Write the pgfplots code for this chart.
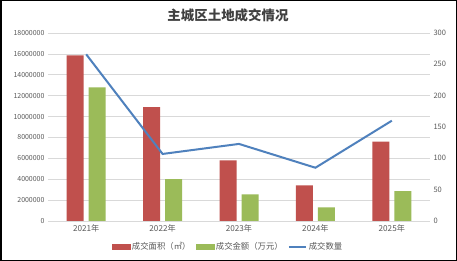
\documentclass[border=0pt]{standalone}
\usepackage{pgfplots}
\pgfplotsset{compat=1.18}
\usepackage{fontspec}
\setmainfont{Noto Sans CJK SC}
\definecolor{cred}{HTML}{C0504D}
\definecolor{cgreen}{HTML}{9BBB59}
\definecolor{cblue}{HTML}{4F81BD}
\definecolor{cgrid}{HTML}{D9D9D9}
\definecolor{ctext}{HTML}{595959}
\begin{document}
\begin{tikzpicture}
\useasboundingbox (0,0) rectangle (457bp,261bp);
\fill[white] (0,0) rectangle (457bp,261bp);
\begin{axis}[
  at={(48bp,40bp)}, anchor=south west,
  scale only axis, width=382bp, height=188bp,
  xmin=-0.5, xmax=4.5, ymin=0, ymax=18000000,
  xtick={0,1,2,3,4}, xticklabels={2021年,2022年,2023年,2024年,2025年},
  ytick={0,2000000,...,18000000},
  scaled y ticks=false,
  /pgf/number format/assume math mode=true,
  yticklabel={\pgfmathprintnumber[fixed,precision=0,set thousands separator={}]{\tick}},
  ymajorgrids, major grid style={cgrid, line width=0.6bp},
  axis line style={draw=none},
  major tick length=0pt,
  yticklabel style={font=\fontsize{7}{8}\selectfont, text=ctext},
  xticklabel style={font=\fontsize{8.2}{9}\selectfont, text=ctext},
  ybar=5bp, bar width=17bp,
  clip=false,
]
\addplot[fill=cred, draw=none] coordinates {(0,15850000) (1,10900000) (2,5800000) (3,3400000) (4,7600000)};
\addplot[fill=cgreen, draw=none] coordinates {(0,12800000) (1,4000000) (2,2550000) (3,1300000) (4,2850000)};
\end{axis}
\begin{axis}[
  at={(48bp,40bp)}, anchor=south west,
  scale only axis, width=382bp, height=188bp,
  xmin=-0.5, xmax=4.5, ymin=0, ymax=300,
  xtick=\empty, ytick={0,50,...,300},
  axis y line*=right, axis x line=none,
  axis line style={draw=none},
  major tick length=0pt,
  /pgf/number format/assume math mode=true,
  tick label style={font=\fontsize{7.5}{8}\selectfont, text=ctext},
  legend columns=3,
  legend style={at={(0.471,-0.138)}, anchor=center, draw=none, fill=none,
    font=\fontsize{8.4}{9}\selectfont, text=ctext, inner sep=0pt,
    /tikz/every even column/.append style={column sep=3bp}},
  clip=false,
]
\addlegendimage{legend image code/.code={\fill[cred] (0bp,-2.5bp) rectangle (18bp,2.5bp);}}
\addlegendentry{成交面积（㎡）}
\addlegendimage{legend image code/.code={\fill[cgreen] (0bp,-2.5bp) rectangle (18bp,2.5bp);}}
\addlegendentry{成交金额（万元）}
\addplot[cblue, line width=2bp, mark=none] coordinates {(0,266) (1,107) (2,123) (3,85) (4,160)};
\addlegendentry{成交数量}
\end{axis}
\node[font=\fontsize{13.5}{14}\selectfont\bfseries, text=black!75] at (228bp,246bp) {主城区土地成交情况};
\draw[line width=1.5bp] (0.75bp,0.75bp) rectangle (456.25bp,260.25bp);
\end{tikzpicture}
\end{document}
